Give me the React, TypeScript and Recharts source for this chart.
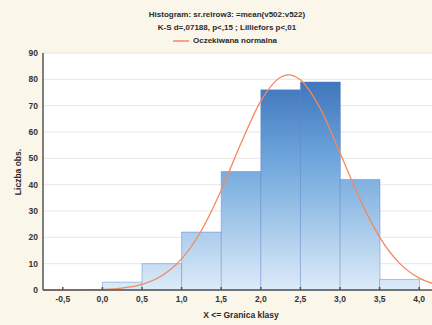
import React from "react";
import {
  ComposedChart,
  Bar,
  Line,
  XAxis,
  YAxis,
  CartesianGrid,
} from "recharts";

// Histogram bins (lower bound of each class, width 0.5) and counts
const binStarts = [0.0, 0.5, 1.0, 1.5, 2.0, 2.5, 3.0, 3.5];
const binCounts = [3, 10, 22, 45, 76, 79, 42, 4];
const binWidth = 0.5;

// Expected normal curve
const curveX = [-0.75, -0.5, -0.25, 0, 0.25, 0.5, 0.75, 1.0, 1.25, 1.5, 1.75, 2.0, 2.25, 2.35, 2.5, 2.75, 3.0, 3.25, 3.5, 3.75, 4.0, 4.25];
const curveY = [0.0, 0.02, 0.06, 0.23, 0.75, 2.15, 5.4, 11.8, 22.6, 37.9, 55.7, 71.7, 80.8, 81.7, 79.8, 68.9, 52.1, 34.6, 20.1, 10.2, 4.5, 1.8];

const xTicks = [-0.5, 0, 0.5, 1, 1.5, 2, 2.5, 3, 3.5, 4];
const yTicks = [0, 10, 20, 30, 40, 50, 60, 70, 80, 90];

const titleLine1 = "Histogram: sr.relrow3: =mean(v502:v522)";
const titleLine2 = "K-S d=,07188, p<,15 ; Lilliefors p<,01";
const legendLabel = "Oczekiwana normalna";
const xLabel = "X <= Granica klasy";
const yLabel = "Liczba obs.";

const barData = binStarts.map((s, i) => ({ x: s + binWidth / 2, count: binCounts[i] }));
const curveData = curveX.map((x, i) => ({ x, y: curveY[i] }));

const fmt = (v: number) => v.toFixed(1).replace(".", ",");

const FONT = "'Liberation Sans', Arial, sans-serif";
const BG = "#FBF6EA";
const AXIS = "#555";
const CURVE = "#F2895F";

export default function App() {
  return (
    <div
      style={{
        position: "fixed",
        left: 0,
        top: 0,
        width: 432,
        height: 325,
        overflow: "hidden",
        background: BG,
        fontFamily: FONT,
      }}
    >
      <div style={{ position: "absolute", left: 0, top: 0 }}>
        <ComposedChart
          width={445}
          height={325}
          data={barData}
          margin={{ top: 53, right: 6, bottom: 0, left: 0 }}
          barCategoryGap={0}
          barGap={0}
        >
          <defs>
            <linearGradient id="barGrad" gradientUnits="userSpaceOnUse" x1="0" y1="53" x2="0" y2="290">
              <stop offset="0" stopColor="#2F64B0" />
              <stop offset="0.45" stopColor="#6EA6DC" />
              <stop offset="1" stopColor="#DCEBF8" />
            </linearGradient>
          </defs>
          <CartesianGrid
            horizontal={true}
            vertical={false}
            stroke="#E6E6E6"
            fill="#FFFFFF"
            fillOpacity={1}
          />
          <XAxis
            xAxisId={0}
            dataKey="x"
            type="number"
            domain={[-0.75, 4.25]}
            ticks={xTicks}
            tickFormatter={fmt}
            allowDataOverflow
            height={35}
            stroke={AXIS}
            strokeWidth={1.5}
            tickSize={-3}
            tickMargin={9}
            tick={{ fontSize: 8.5, fontWeight: "bold", fill: "#333", fontFamily: FONT }}
          />
          <XAxis
            xAxisId="top"
            orientation="top"
            dataKey="x"
            type="number"
            domain={[-0.75, 4.25]}
            ticks={xTicks}
            tickFormatter={() => ""}
            allowDataOverflow
            height={0}
            stroke={AXIS}
            strokeWidth={1.5}
            tickSize={-3}
          />
          <YAxis
            type="number"
            domain={[0, 90]}
            ticks={yTicks}
            width={43}
            stroke={AXIS}
            strokeWidth={1.5}
            tickLine={false}
            tickSize={0}
            tickMargin={5}
            tick={{ fontSize: 8.5, fontWeight: "bold", fill: "#333", fontFamily: FONT }}
          />
          <Bar
            xAxisId={0}
            dataKey="count"
            fill="url(#barGrad)"
            stroke="#5B7FC7"
            strokeOpacity={0.45}
            strokeWidth={1}
            isAnimationActive={false}
          />
          <Line
            xAxisId="top"
            data={curveData}
            dataKey="y"
            type="monotone"
            stroke={CURVE}
            strokeWidth={1.3}
            dot={false}
            isAnimationActive={false}
          />
        </ComposedChart>
      </div>

      <div
        style={{
          position: "absolute",
          left: 0,
          width: 454,
          top: 8,
          textAlign: "center",
          fontSize: 8,
          fontWeight: "bold",
          color: "#2a2a2a",
          lineHeight: "13px",
          whiteSpace: "nowrap",
        }}
      >
        <div>{titleLine1}</div>
        <div>{titleLine2}</div>
        <div style={{ display: "flex", justifyContent: "center", alignItems: "center" }}>
          <svg width={16} height={6} style={{ marginRight: 4, marginLeft: -4 }}>
            <line x1={0} y1={3} x2={16} y2={3} stroke={CURVE} strokeWidth={1.5} />
          </svg>
          <span>{legendLabel}</span>
        </div>
      </div>

      <div
        style={{
          position: "absolute",
          left: 0,
          width: 482,
          top: 310,
          textAlign: "center",
          fontSize: 8.5,
          fontWeight: "bold",
          color: "#2a2a2a",
          whiteSpace: "nowrap",
        }}
      >
        {xLabel}
      </div>

      <div
        style={{
          position: "absolute",
          left: 18,
          top: 172,
          transform: "translate(-50%, -50%) rotate(-90deg)",
          fontSize: 8.5,
          fontWeight: "bold",
          color: "#2a2a2a",
          whiteSpace: "nowrap",
        }}
      >
        {yLabel}
      </div>
    </div>
  );
}
